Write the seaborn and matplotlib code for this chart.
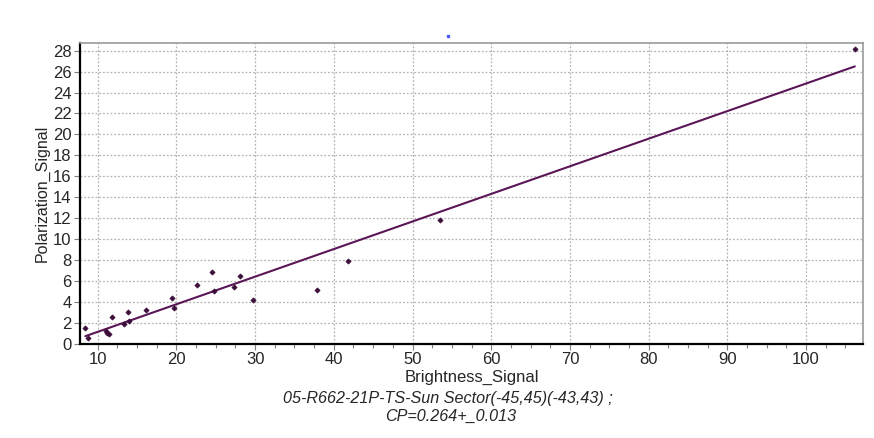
import matplotlib
matplotlib.use("Agg")
import matplotlib.pyplot as plt
from matplotlib.ticker import MultipleLocator
from matplotlib.lines import Line2D
import seaborn as sns
import pandas as pd

# ---- data ----
brightness = [8.43, 8.73, 11.02, 11.23, 11.44, 11.86, 13.35, 13.81, 14.03, 16.14,
              19.45, 19.66, 22.63, 24.53, 24.79, 27.29, 28.05, 29.79, 37.84, 41.74,
              53.46, 106.2]
polarization = [1.50, 0.54, 1.18, 1.02, 0.89, 2.49, 1.85, 3.06, 2.17, 3.22,
                4.34, 3.44, 5.58, 6.86, 5.01, 5.42, 6.44, 4.15, 5.10, 7.91,
                11.83, 28.16]
fit_x = [8.43, 106.2]
fit_y = [0.70, 26.50]

x_label = "Brightness_Signal"
y_label = "Polarization_Signal"
subtitle_1 = "05-R662-21P-TS-Sun Sector(-45,45)(-43,43) ;"
subtitle_2 = "CP=0.264+_0.013"
x_ticks = [10, 20, 30, 40, 50, 60, 70, 80, 90, 100]
y_ticks = list(range(0, 29, 2))

sns.set_style("white")
plt.rcParams["font.family"] = ["Liberation Sans", "DejaVu Sans"]

fig = plt.figure(figsize=(8.74, 4.38), dpi=100)
ax = fig.add_axes([80 / 874, (438 - 343.5) / 438, (863 - 80) / 874, (343.5 - 43) / 438])

pts = pd.DataFrame({"x": brightness, "y": polarization})
fit = pd.DataFrame({"x": fit_x, "y": fit_y})

sns.lineplot(data=fit, x="x", y="y", ax=ax, color="#5a1656", linewidth=1.5, zorder=3)
sns.scatterplot(data=pts, x="x", y="y", ax=ax, marker="D", s=7, color="#3a0d3a",
                edgecolor="#3a0d3a", linewidth=0.5, zorder=4)

ax.set_xlim(7.75, 107.24)
ax.set_ylim(0, 28.74)
ax.set_xticks(x_ticks)
ax.set_yticks(y_ticks)
ax.xaxis.set_minor_locator(MultipleLocator(2.5))

ax.grid(True, which="major", color="#b4b4b4", linestyle=(0, (1.5, 1.5)), linewidth=0.9)
ax.set_axisbelow(True)

for side in ["left", "bottom"]:
    ax.spines[side].set_color("black")
    ax.spines[side].set_linewidth(1.6)
for side in ["top", "right"]:
    ax.spines[side].set_color("#9a9a9a")
    ax.spines[side].set_linewidth(1.2)

ax.tick_params(axis="both", which="major", direction="out", length=4, width=0.8,
               color="#808080", labelsize=12, pad=2, bottom=True, left=True)
ax.tick_params(axis="x", which="minor", direction="out", length=3, width=0.8,
               color="#808080", bottom=True)

ax.set_xlabel(x_label, fontsize=12, labelpad=2)
ax.set_ylabel(y_label, fontsize=11.5, labelpad=2)

fig.text(448 / 874, 1 - 398 / 438, subtitle_1, ha="center", va="center",
         fontsize=11.6, style="italic")
fig.text(451 / 874, 1 - 416 / 438, subtitle_2, ha="center", va="center",
         fontsize=11.6, style="italic")

fig.add_artist(Line2D([448 / 874], [1 - 35.5 / 438], marker="s", markersize=1.5,
                      color="#4a5aff", linestyle="none"))

fig.savefig("out.png", dpi=100)
